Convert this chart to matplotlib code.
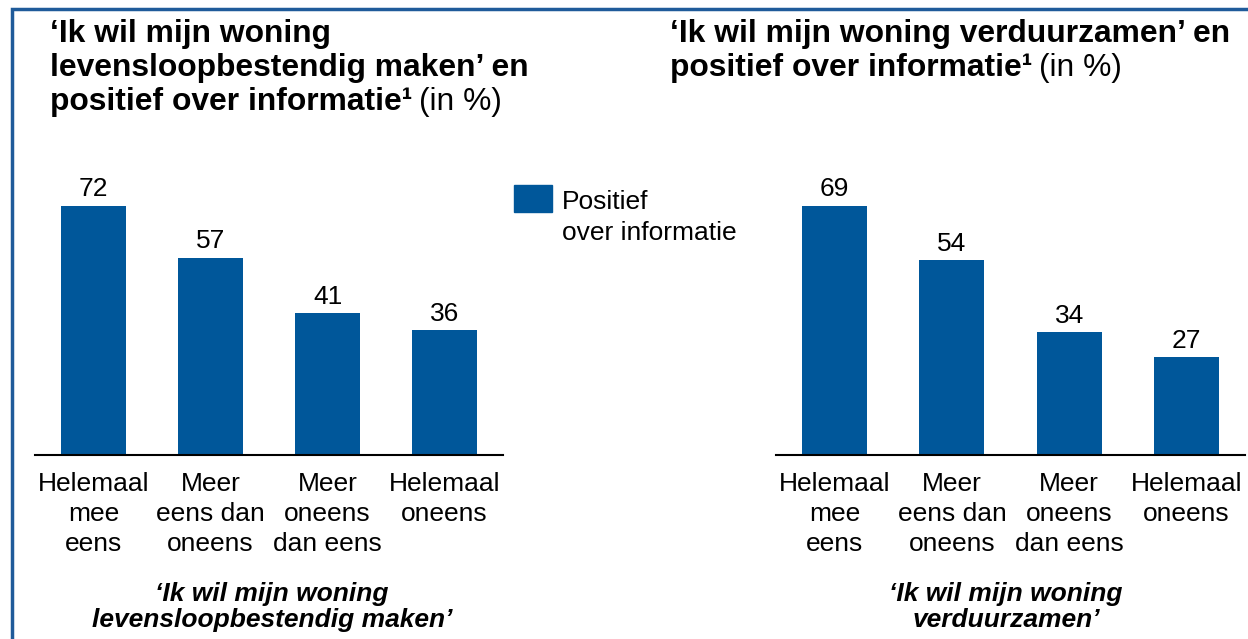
import matplotlib.pyplot as plt
from matplotlib.patches import Rectangle
import matplotlib
matplotlib.rcParams['font.family'] = ['Liberation Sans', 'DejaVu Sans']

# data
categories = ["Helemaal\nmee\neens", "Meer\neens dan\noneens",
              "Meer\noneens\ndan eens", "Helemaal\noneens"]
levensloop = [72, 57, 41, 36]
verduurzamen = [69, 54, 34, 27]
series_label = "Positief\nover informatie"

BLUE = "#00579A"
W, H = 1248, 639
FS = 19      # body text
FT = 22.9    # titles


def fy(px):
    return 1 - px / H


def fx(px):
    return px / W


fig = plt.figure(figsize=(W / 100, H / 100), dpi=100)

# frame on left / top
fig.patches.append(Rectangle((fx(12), fy(700)), fx(1300), fy(9) - fy(700),
                             transform=fig.transFigure, fill=False,
                             edgecolor="#1F5B9A", linewidth=2.5))


def bar_panel(left_px, right_px, vals):
    ax = fig.add_axes([fx(left_px), fy(455), fx(right_px - left_px), 277 / H])
    x = range(len(vals))
    bars = ax.bar(x, vals, width=0.556, color=BLUE)
    ax.set_xlim(-0.5, 3.5)
    ax.set_ylim(0, max(vals) / 0.9)
    for s in ["top", "right", "left"]:
        ax.spines[s].set_visible(False)
    ax.spines["bottom"].set_linewidth(1.5)
    ax.set_yticks([])
    ax.set_xticks(list(x))
    ax.set_xticklabels(categories, fontsize=FS, linespacing=1.3)
    ax.tick_params(axis="x", length=0, pad=12.5)
    for b, v in zip(bars, vals):
        ax.annotate(str(v), xy=(b.get_x() + b.get_width() / 2, v),
                    xytext=(0, 6.7), textcoords="offset points",
                    ha="center", va="baseline", fontsize=FS)
    return ax


bar_panel(35, 503, levensloop)
bar_panel(776, 1245, verduurzamen)

# titles
fig.text(fx(50), fy(42), "‘Ik wil mijn woning", fontsize=FT, fontweight="bold", va="baseline")
fig.text(fx(50), fy(76), "levensloopbestendig maken’ en", fontsize=FT, fontweight="bold", va="baseline")
t1 = fig.text(fx(50), fy(110), "positief over informatie¹", fontsize=FT, fontweight="bold", va="baseline")
fig.text(fx(670), fy(42), "‘Ik wil mijn woning verduurzamen’ en", fontsize=FT, fontweight="bold", va="baseline")
t2 = fig.text(fx(670), fy(76), "positief over informatie¹", fontsize=FT, fontweight="bold", va="baseline")
for t in (t1, t2):
    fig.texts.append(plt.Annotation("(in %)", xy=(1, 0), xycoords=t,
                                    xytext=(5, 0), textcoords="offset points",
                                    fontsize=FT, va="bottom", ha="left",
                                    figure=fig))

# legend (va=baseline anchors the last line)
fig.patches.append(Rectangle((fx(514), fy(211.5)), fx(37.5), fy(184.5) - fy(211.5),
                             transform=fig.transFigure, color=BLUE))
fig.text(fx(562), fy(240), series_label, fontsize=FS, va="baseline", linespacing=1.37)

# category captions
fig.text(fx(272), fy(627), "‘Ik wil mijn woning\nlevensloopbestendig maken’", fontsize=FS,
         fontweight="bold", style="italic", ha="center", va="baseline", linespacing=1.12)
fig.text(fx(1006), fy(627), "‘Ik wil mijn woning\nverduurzamen’", fontsize=FS,
         fontweight="bold", style="italic", ha="center", va="baseline", linespacing=1.12)

fig.savefig("out.png", dpi=100)
